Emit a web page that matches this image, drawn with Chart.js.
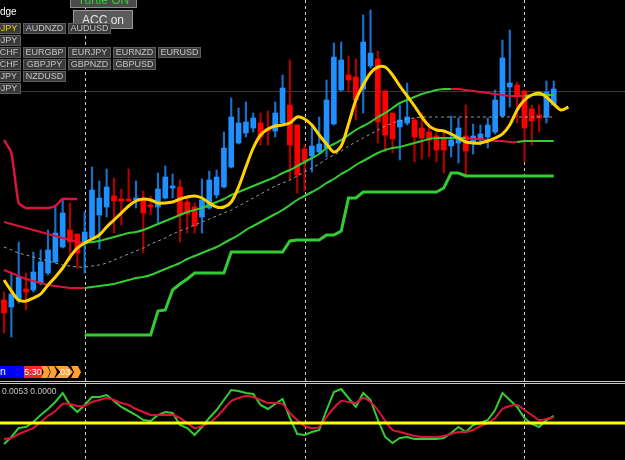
<!DOCTYPE html>
<html lang="en">
<head>
  <meta charset="UTF-8">
  <title>EURUSD H1 - chart with bands and oscillator</title>
  <script src="https://cdn.jsdelivr.net/npm/chart.js"></script>
  <style>
    body { margin: 0; background: #000; width: 625px; height: 460px; overflow: hidden; position: relative;
           font-family: "Liberation Sans", Arial, sans-serif; }
    canvas { position: absolute; left: 0; }
    #main { top: 0; }
    #osc { top: 384px; }
    .sep { position: absolute; left: 0; width: 625px; height: 1px; background: #c8c8c8; }
    .btn { position: absolute; box-sizing: border-box; height: 11px; width: 43px; background: #3a3a3a;
           border: 1px solid #5e5e5e; color: #c4c4c4; font-size: 9px; line-height: 9px; text-align: center;
           white-space: nowrap; overflow: hidden; }
    .label { position: absolute; white-space: nowrap; }
    .chev { position: absolute; top: 366px; height: 12px; background: #ffa030; color: #fff; font-size: 9px;
            line-height: 12px; text-align: center;
            clip-path: polygon(0 0, 70% 0, 100% 50%, 70% 100%, 0 100%, 30% 50%); }
  </style>
</head>
<body>
  <canvas id="main" width="625" height="381"></canvas>
  <div class="sep" style="top:381px"></div>
  <div class="sep" style="top:383px"></div>
  <canvas id="osc" width="625" height="76"></canvas>

  <!-- panel buttons -->
  <div class="label" style="left:0;top:6px;color:#fff;font-size:10px">dge</div>
  <div class="btn" style="left:70px;top:-8px;width:67px;height:16px;line-height:14px;font-size:12px;color:#2ecc2e;background:#4a4a4a;border-color:#8a8a8a">Turtle ON</div>
  <div class="btn" style="left:73px;top:10px;width:60px;height:19px;line-height:19px;font-size:12px;color:#e6e6e6;background:#5a5a5a;border-color:#9a9a9a">ACC on</div>
  <div id="pairs"></div>

  <!-- bottom-left markers -->
  <div class="label" style="left:0;top:366px;width:24px;height:12px;background:#0000ff;color:#fff;font-size:10px;line-height:12px">n</div>
  <div class="label" style="left:24px;top:366px;width:18px;height:12px;background:#f02828;color:#fff;font-size:9px;line-height:12px;text-align:center">5:30</div>
  <div class="chev" style="left:41px;width:9px"></div>
  <div class="chev" style="left:48px;width:9px"></div>
  <div class="chev" style="left:55px;width:18px">.03</div>
  <div class="chev" style="left:71px;width:10px"></div>
  <div class="label" style="left:2px;top:386px;color:#c8c8c8;font-size:8.5px">0.0053 0.0000</div>

  <script>
    // Both panes use a price axis that grows downward (reversed).
    const pairRows = [
      ['AUDJPY', 'AUDNZD', 'AUDUSD'],
      ['CADJPY'],
      ['EURCHF', 'EURGBP', 'EURJPY', 'EURNZD', 'EURUSD'],
      ['GBPCHF', 'GBPJPY', 'GBPNZD', 'GBPUSD'],
      ['NZDJPY', 'NZDUSD'],
      ['USDJPY']
    ];
    const activePair = 'AUDJPY';

    const open  = [300,307,300,289,290,283,273,262,247,230,234, 244,238,215,207,196,199,199,200,200,205,
                   207,198,188,187,202,207,217,208,195,187, 167,143,133,128,123,129,131,123,105,125,
                   149,156,152,148,124,90,75,77,89,66, 59,91,113,127,123,120,128,132,136,139,
                   146,143,136,143,140,137,132,116,87,85, 91,109,115,117,105];
    const close = [313,294,277,292,272,262,250,233,213,242,253, 232,190,198,187,201,201,201,198,213,207,
                   189,177,186,215,214,226,200,180,177,148, 117,123,122,118,137,131,113,88,145,175,
                   161,146,144,100,57,60,80,100,42,53, 122,135,139,120,117,137,138,140,150,150,
                   140,128,151,136,134,125,100,58,83,97, 128,121,118,92,89];
    const high  = [292,272,242,273,252,250,230,205,199,203,234, 212,167,181,169,178,189,169,181,191,196,
                   173,166,174,180,197,203,179,171,170,132, 98,108,102,113,113,111,102,75,60,125,
                   145,124,117,80,43,42,56,59,15,10, 51,90,113,105,83,118,113,123,133,133,
                   116,118,105,124,125,118,90,40,30,82, 90,105,105,81,81];
    const low   = [333,337,303,310,292,285,275,263,248,260,268, 273,239,249,217,233,225,201,208,253,215,
                   223,199,198,242,233,233,233,209,198,188, 168,144,137,132,145,145,137,124,180,193,
                   191,172,153,157,125,91,92,120,113,68, 143,152,153,160,125,162,159,157,162,173,
                   157,163,177,154,145,148,134,117,107,123, 162,145,132,123,106];

    const yellowMA = [280,291,300,301,298,294,285,277,268,257,248, 243,239,235,227,220,213,206,201,199,200,
                      203,203,202,199,197,196,198,203,207,207, 202,187,167,148,135,129,126,125,123,117,
                      119,125,135,144,152,146,124,100,85,73, 67,67,75,86,96,106,117,126,130,131,
                      134,138,142,143,143,141,138,134,125,110, 100,95,93,97,104,110,107];
    const upperBand = [222,224,226,228,230,232,234,236,238,240,242, 243,242,241,239,237,235,233,232,230,227,
                       224,221,218,215,212,210,208,205,202,199, 195,192,189,186,183,180,177,173,170,166,
                       162,158,154,148,144,140,135,130,126,122, 117,113,108,103,100,97,94,92,90,89,
                       89,89,90,91,92,93,94,95,96,96, 96,95,95,95,95];
    const midBand = [247,250,253,255,257,259,261,263,265,266,267, 267,266,265,263,260,257,254,251,248,244,
                     241,238,234,231,228,225,222,219,216,213, 210,206,202,198,194,190,186,183,180,176,
                     172,168,164,159,155,151,146,142,138,134, 130,126,123,121,119,118,117,117,117,117,
                     117,117,117,117,117,117,117,117,117,117, 117,117,117,117,117];
    const lowerBand = [270,273,276,279,281,283,285,286,287,288,288, 288,287,286,285,284,282,280,278,277,275,
                       272,269,266,263,259,256,253,250,247,243, 239,235,230,226,222,218,214,210,205,200,
                       196,192,188,183,179,174,170,165,161,157, 153,150,148,147,145,143,141,139,138,138,
                       138,138,138,139,139,140,141,141,142,142, 141,141,141,141,141];
    const sellStopStart = 0;
    const sellStop = [140,153,203,208,208,208,208,206,199,199,199];
    const buyStopStart = 11;
    const buyStop = [335,335,335,335,335,335,335,335,335,335,
                     311,310,290,284,279,273,273,273,273,273,
                     252,252,252,252,252,252,252,252,241,240,
                     240,240,240,235,235,231,198,198,192,192,
                     192,192,192,192,192,192,192,192,192,188,
                     173,173,176,176,176,176,176,176,176,176,
                     176,176,176,176,176];
    const bidLevel = 91;

    const oscFast = [444,437,428,427,422,415,409,402,393,405,412, 405,397,397,395,401,407,411,415,420,421,
                     415,412,413,425,428,435,427,418,410,400, 390,391,393,394,405,409,404,399,418,434,
                     435,432,430,410,392,389,398,407,393,400, 420,437,443,438,437,439,439,439,439,438,
                     433,427,432,425,423,420,410,393,400,407, 418,424,427,420,416];
    const oscSlow = [439,438,434,431,428,422,416,411,404,404,406, 406,402,400,398,400,403,405,409,412,415,
                     415,415,415,418,423,428,426,423,417,409, 401,398,396,397,400,403,403,404,413,420,
                     426,428,427,417,408,401,402,403,398,402, 410,421,430,432,434,436,437,437,437,436,
                     434,432,432,430,426,423,418,409,406,405, 410,415,420,419,417];
    const oscLevel = 423;
    const daySeparators = [11, 41, 71];

    const GREEN = '#32cd32', CRIMSON = '#dc143c';
    const upperRed = [[0, 11], [61, 71]];
    const lowerRed = [[0, 11], [63, 70]];
    const inRanges = (i, ranges) => ranges.some(([a, b]) => i >= a && i < b);

    // pair buttons
    const pairs = document.getElementById('pairs');
    pairRows.forEach((row, r) => row.forEach((name, c) => {
      const b = document.createElement('div');
      b.className = 'btn';
      b.textContent = name;
      b.style.top = (23 + r * 12) + 'px';
      b.style.left = (c * 45 - 22) + 'px';
      if (name === activePair) b.style.color = '#f0d000';
      pairs.appendChild(b);
    }));

    const pts = (arr, start = 0) => arr.map((v, k) => ({ x: start + k, y: v }));
    const line = (data, color, width, extra = {}) => Object.assign({
      type: 'line', data, borderColor: color, borderWidth: width, pointRadius: 0,
      fill: false, tension: 0.3, order: 2
    }, extra);

    const guides = (hLines, topLines) => ({
      id: 'guides',
      beforeDatasetsDraw(chart) {
        const { ctx, chartArea: a, scales: { x, y } } = chart;
        ctx.save();
        hLines.forEach(([v, color, w]) => {
          const py = Math.round(y.getPixelForValue(v)) + 0.5;
          ctx.strokeStyle = color; ctx.lineWidth = w;
          ctx.beginPath(); ctx.moveTo(a.left, py); ctx.lineTo(a.right, py); ctx.stroke();
        });
        ctx.setLineDash([3, 3]);
        ctx.strokeStyle = '#cfcfcf'; ctx.lineWidth = 1;
        daySeparators.forEach(i => {
          const px = Math.round(x.getPixelForValue(i)) + 0.5;
          ctx.beginPath(); ctx.moveTo(px, a.top); ctx.lineTo(px, a.bottom); ctx.stroke();
        });
        ctx.restore();
      },
      afterDatasetsDraw(chart) {
        const { ctx, chartArea: a, scales: { y } } = chart;
        ctx.save();
        topLines.forEach(([v, color, w]) => {
          const py = y.getPixelForValue(v);
          ctx.strokeStyle = color; ctx.lineWidth = w;
          ctx.beginPath(); ctx.moveTo(a.left, py); ctx.lineTo(a.right, py); ctx.stroke();
        });
        ctx.restore();
      }
    });

    const xScale = { type: 'linear', min: -0.55, max: 84.72, offset: false, display: false };
    const baseOptions = (ymin, ymax) => ({
      responsive: false, animation: false, events: [],
      layout: { padding: 0 },
      plugins: { legend: { display: false }, tooltip: { enabled: false } },
      scales: { x: xScale, y: { reverse: true, min: ymin, max: ymax, display: false } }
    });

    const bull = open.map((o, i) => close[i] < o);

    new Chart(document.getElementById('main'), {
      type: 'bar',
      data: {
        datasets: [
          { type: 'bar', data: high.map((h, i) => ({ x: i, y: [h, low[i]] })), grouped: false,
            barThickness: 1.5, backgroundColor: bull.map(b => b ? '#1a6fc8' : '#b00000'), order: 10 },
          { type: 'bar', data: open.map((o, i) => ({ x: i, y: [o, close[i]] })), grouped: false,
            barThickness: 5, backgroundColor: bull.map(b => b ? '#1e90ff' : '#ff0000'), order: 9 },
          line(pts(midBand), '#9a9a9a', 1, { borderDash: [3, 3] }),
          line(pts(upperBand), GREEN, 2, { segment: { borderColor: c => inRanges(c.p0DataIndex, upperRed) ? CRIMSON : GREEN } }),
          line(pts(lowerBand), GREEN, 2, { segment: { borderColor: c => inRanges(c.p0DataIndex, lowerRed) ? CRIMSON : GREEN } }),
          line(pts(sellStop, sellStopStart), CRIMSON, 2.5, { tension: 0.2 }),
          line(pts(buyStop, buyStopStart), GREEN, 3, { tension: 0 }),
          line(pts(yellowMA), '#ffd200', 3, { order: 0 })
        ]
      },
      options: baseOptions(0, 381),
      plugins: [guides([[bidLevel, '#3a3a3a', 1]], [])]
    });

    new Chart(document.getElementById('osc'), {
      type: 'line',
      data: {
        datasets: [
          line(pts(oscFast), GREEN, 2, { tension: 0 }),
          line(pts(oscSlow), CRIMSON, 2, { tension: 0.2, order: 1 })
        ]
      },
      options: baseOptions(384, 460),
      plugins: [guides([], [[oscLevel, '#ffff00', 3]])]
    });
  </script>
</body>
</html>
